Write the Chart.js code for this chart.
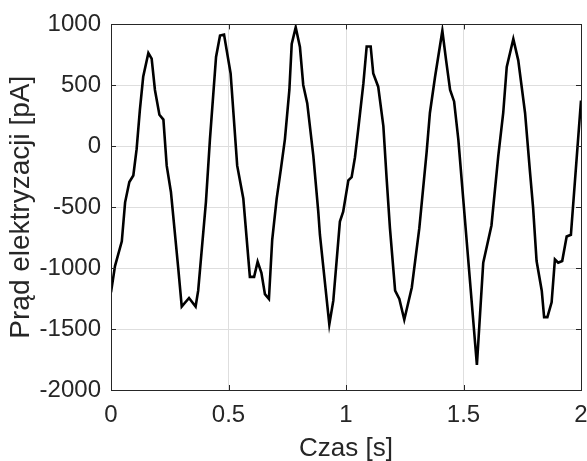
<!DOCTYPE html>
<html>
<head>
<meta charset="utf-8">
<script src="https://cdn.jsdelivr.net/npm/chart.js@4/dist/chart.umd.min.js"></script>
<style>
  html, body { margin: 0; padding: 0; background: #fff; }
  #wrap { width: 587px; height: 461px; }
</style>
</head>
<body>
<div id="wrap"><canvas id="wykres"></canvas></div>
<script>
// odczyt z wykresu: czas [s] i prąd [pA]
const timeS = [
  0.000, 0.017, 0.046, 0.060, 0.078, 0.095, 0.109, 0.123, 0.137, 0.159,
  0.173, 0.187, 0.206, 0.223, 0.237, 0.255, 0.286, 0.301, 0.332, 0.360,
  0.371, 0.404, 0.421, 0.447, 0.464, 0.481, 0.509, 0.537, 0.563, 0.591,
  0.609, 0.624, 0.640, 0.655, 0.672, 0.686, 0.705, 0.723, 0.740, 0.759,
  0.769, 0.786, 0.804, 0.818, 0.835, 0.861, 0.882, 0.889, 0.929, 0.946,
  0.974, 0.988, 1.010, 1.024, 1.038, 1.052, 1.074, 1.088, 1.105, 1.116,
  1.137, 1.159, 1.173, 1.187, 1.209, 1.227, 1.248, 1.280, 1.312, 1.343,
  1.357, 1.379, 1.410, 1.426, 1.443, 1.460, 1.478, 1.506, 1.557, 1.584,
  1.619, 1.648, 1.669, 1.684, 1.712, 1.733, 1.762, 1.783, 1.796, 1.811,
  1.833, 1.843, 1.857, 1.875, 1.889, 1.903, 1.920, 1.939, 1.957, 2.000
];
const currentPA = [
  -1199, -983, -780, -460, -294, -240, -24, 300, 570, 765,
  719, 462, 259, 219, -159, -375, -997, -1315, -1245, -1315,
  -1185, -456, 57, 733, 908, 916, 597, -159, -429, -1072,
  -1072, -948, -1038, -1213, -1253, -767, -429, -186, 57, 462,
  840, 976, 814, 503, 354, -78, -537, -726, -1461, -1267,
  -618, -537, -280, -254, -92, 138, 516, 819, 819, 597,
  489, 165, -267, -672, -1185, -1253, -1423, -1159, -672, -51,
  273, 570, 948, 705, 462, 368, 57, -600, -1795, -956,
  -650, -78, 273, 651, 881, 705, 273, -213, -500, -942,
  -1185, -1402, -1402, -1280, -929, -956, -942, -740, -726, 375
];
const xTicks = [0, 0.5, 1, 1.5, 2];
const yTicks = [-2000, -1500, -1000, -500, 0, 500, 1000];

const points = timeS.map((t, i) => ({ x: t, y: currentPA[i] }));
const osColor = "#262626";
const fontFam = "'Liberation Sans', Arial, Helvetica, sans-serif";

// ramka i znaczniki do środka (styl MATLAB)
const ramka = {
  id: "ramka",
  afterDraw(chart) {
    const { ctx, chartArea: a, scales: { x, y } } = chart;
    const len = 5;
    ctx.save();
    ctx.strokeStyle = osColor;
    ctx.lineWidth = 1;
    ctx.beginPath();
    xTicks.forEach(v => {
      const px = Math.round(x.getPixelForValue(v)) + 0.5;
      ctx.moveTo(px, a.bottom); ctx.lineTo(px, a.bottom - len);
      ctx.moveTo(px, a.top); ctx.lineTo(px, a.top + len);
    });
    yTicks.forEach(v => {
      const py = Math.round(y.getPixelForValue(v)) + 0.5;
      ctx.moveTo(a.left, py); ctx.lineTo(a.left + len, py);
      ctx.moveTo(a.right, py); ctx.lineTo(a.right - len, py);
    });
    ctx.stroke();
    ctx.strokeRect(Math.round(a.left) + 0.5, Math.round(a.top) + 0.5,
      Math.round(a.right - a.left), Math.round(a.bottom - a.top));
    ctx.restore();
  }
};

new Chart(document.getElementById("wykres"), {
  type: "line",
  data: {
    datasets: [{
      data: points,
      borderColor: "#000",
      borderWidth: 2.6,
      pointRadius: 0,
      tension: 0,
      fill: false
    }]
  },
  options: {
    responsive: true,
    maintainAspectRatio: false,
    animation: false,
    layout: { padding: { top: 20, right: 0, left: 0, bottom: 0 } },
    plugins: { legend: { display: false }, tooltip: { enabled: false } },
    scales: {
      x: {
        type: "linear",
        min: 0, max: 2,
        afterBuildTicks: s => { s.ticks = xTicks.map(v => ({ value: v })); },
        afterFit: s => { s.height = 71; s.paddingRight = 6; },
        grid: { color: "#dedede", lineWidth: 1, drawTicks: false },
        border: { display: false },
        ticks: {
          color: osColor, padding: 11,
          font: { family: fontFam, size: 24 },
          callback: v => String(v)
        },
        title: {
          display: true, text: "Czas [s]", color: osColor,
          font: { family: fontFam, size: 26 }, padding: { top: 0, bottom: -3 }
        }
      },
      y: {
        type: "linear",
        min: -2000, max: 1000,
        afterBuildTicks: s => { s.ticks = yTicks.map(v => ({ value: v })); },
        afterFit: s => { s.width = 111; },
        grid: { color: "#dedede", lineWidth: 1, drawTicks: false },
        border: { display: false },
        ticks: {
          color: osColor, padding: 10,
          font: { family: fontFam, size: 24 },
          callback: v => String(v)
        },
        title: {
          display: true, text: "Prąd elektryzacji [pA]", color: osColor,
          font: { family: fontFam, size: 28 }, padding: { top: 4, bottom: 0 }
        }
      }
    }
  },
  plugins: [ramka]
});
</script>
</body>
</html>
